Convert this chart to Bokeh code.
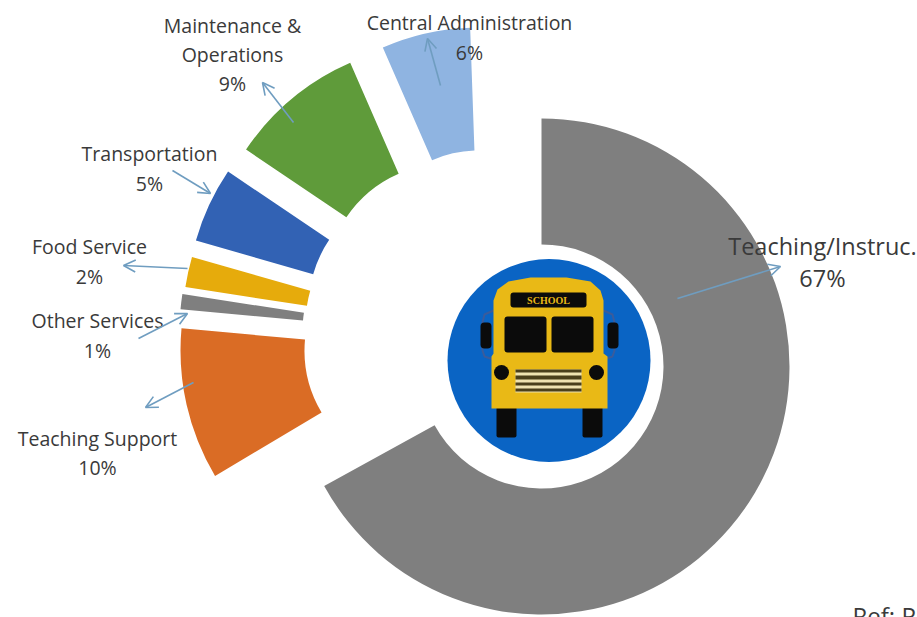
from math import pi

from bokeh.core.properties import value
from bokeh.embed import file_html
from bokeh.models import Arrow, ColumnDataSource, OpenHead, Range1d
from bokeh.plotting import figure
from bokeh.resources import INLINE

# School spending shares, in percent
categories = ["Teaching/Instruc.", "Teaching Support", "Other Services", "Food Service",
              "Transportation", "Maintenance &\nOperations", "Central Administration"]
shares = [67, 10, 1, 2, 5, 9, 6]
colors = ["#7F7F7F", "#DA6C25", "#7F7F7F", "#E6AB0C", "#3262B4", "#5F9B3A", "#8FB4E1"]

# Ring layout: centre of each wedge after it is pulled out of the ring
centre_x = [541, 425, 424, 427, 429, 447, 478]
centre_y = [366, 350, 331, 324, 307, 285, 266]
outer_r = [248, 245, 245, 245, 243, 243, 239]
inner_r = [122, 121, 122, 122, 121, 122, 116]
detached_turn = -2.0  # degrees, applied to all wedges pulled out of the ring

# Label anchors: x centre, y of the first line, line spacing
label_x = [822, 97, 97, 89, 149, 232, 469]
label_y = [245, 438, 320, 246, 153, 25, 22]
label_step = [32, 29, 30, 30, 30, 29, 30]
label_size = ["23.5px", "19.5px", "19.5px", "19.5px", "19.5px", "19.5px", "19.5px"]

# Leader arrows: tail and head
leader_x0 = [677, 193, 138, 187, 172, 293, 440]
leader_y0 = [298, 382, 338, 268, 170, 122, 85]
leader_x1 = [780, 145, 187, 123, 210, 262, 427]
leader_y1 = [266, 407, 313, 265, 193, 82, 38]
leader_color = "#6F9DC0"

WIDTH, HEIGHT = 917, 617
p = figure(width=WIDTH, height=HEIGHT, output_backend="svg", toolbar_location=None,
           x_range=Range1d(0, WIDTH), y_range=Range1d(HEIGHT, 0),
           x_axis_type=None, y_axis_type=None, min_border=0,
           outline_line_color=None, background_fill_color="white")
p.xgrid.visible = False
p.ygrid.visible = False

# Wedge angles run clockwise from twelve o'clock, converted to Bokeh's counter-clockwise radians
start, end = [], []
running = 0.0
for i, share in enumerate(shares):
    turn = detached_turn if i > 0 else 0.0
    a0 = running * 3.6 + turn
    a1 = (running + share) * 3.6 + turn
    start.append((90 - a1) * pi / 180)
    end.append((90 - a0) * pi / 180)
    running += share

wedges = ColumnDataSource(dict(x=centre_x, y=centre_y, inner=inner_r, outer=outer_r,
                               start=start, end=end, color=colors))
p.annular_wedge(x="x", y="y", inner_radius="inner", outer_radius="outer",
                start_angle="start", end_angle="end", fill_color="color",
                line_color=None, source=wedges, direction="anticlock")

# Bus badge in the hole of the ring
YELLOW = "#E9B916"
BLACK = "#0B0B0B"
p.circle(x=[548.5], y=[360], radius=101.5, fill_color="#0A64C4", line_color=None)
p.line([493, 484, 482, 482, 484, 493], [310, 314, 322, 350, 356, 359], line_color="#3A5C9C", line_width=2)
p.line([603, 612, 614, 614, 612, 603], [310, 314, 322, 350, 356, 359], line_color="#3A5C9C", line_width=2)
p.quad(left=[480, 607], right=[491, 618], top=[322, 322], bottom=[348, 348],
       fill_color=BLACK, line_color=None, border_radius=4)
p.quad(left=[496, 582], right=[516, 602], top=[406, 406], bottom=[437, 437],
       fill_color=BLACK, line_color=None, border_radius=2)
p.patch([493, 493, 497, 508, 530, 566, 590, 600, 603, 603, 607, 607, 491, 491],
        [353, 300, 289, 281, 277, 277, 281, 290, 300, 353, 356, 408, 408, 356],
        fill_color=YELLOW, line_color=None)
p.quad(left=[510], right=[586], top=[292], bottom=[307], fill_color=BLACK, line_color=None, border_radius=3)
p.text(x=[548], y=[299.5], text=["SCHOOL"], text_color=YELLOW, text_font=value("Liberation Serif"),
       text_font_size="10px", text_font_style="bold", text_align="center", text_baseline="middle")
p.quad(left=[504, 551], right=[546, 593], top=[316, 316], bottom=[352, 352],
       fill_color=BLACK, line_color=None, border_radius=3)
p.circle(x=[501, 596], y=[372, 372], radius=7.5, fill_color=BLACK, line_color=None)
p.quad(left=[515], right=[581], top=[369], bottom=[392], fill_color="#EFE3B0", line_color=None)
p.quad(left=[515] * 4, right=[581] * 4, top=[369, 375, 382, 388], bottom=[372, 379, 385, 391],
       fill_color="#4A3F1A", line_color=None)

# Leader arrows from each wedge to its label
for x0, y0, x1, y1 in zip(leader_x0, leader_y0, leader_x1, leader_y1):
    p.add_layout(Arrow(x_start=x0, y_start=y0, x_end=x1, y_end=y1,
                       line_color=leader_color, line_width=1.6,
                       end=OpenHead(size=12, line_color=leader_color, line_width=1.6)))

# Category name lines followed by the percentage
for name, share, x, y, step, size in zip(categories, shares, label_x, label_y, label_step, label_size):
    lines = name.split("\n") + [f"{share}%"]
    p.text(x=[x] * len(lines), y=[y + k * step for k in range(len(lines))], text=lines,
           text_color="#3A3A3A", text_font=value("Open Sans"), text_font_size=size,
           text_align="center", text_baseline="middle")

# Source note running off the corner of the page
p.text(x=[852], y=[615], text=["Ref: P"], text_color="#3A3A3A", text_font=value("Open Sans"),
       text_font_size="24px", text_align="left", text_baseline="alphabetic")

open("out.html", "w").write(file_html(p, INLINE))
